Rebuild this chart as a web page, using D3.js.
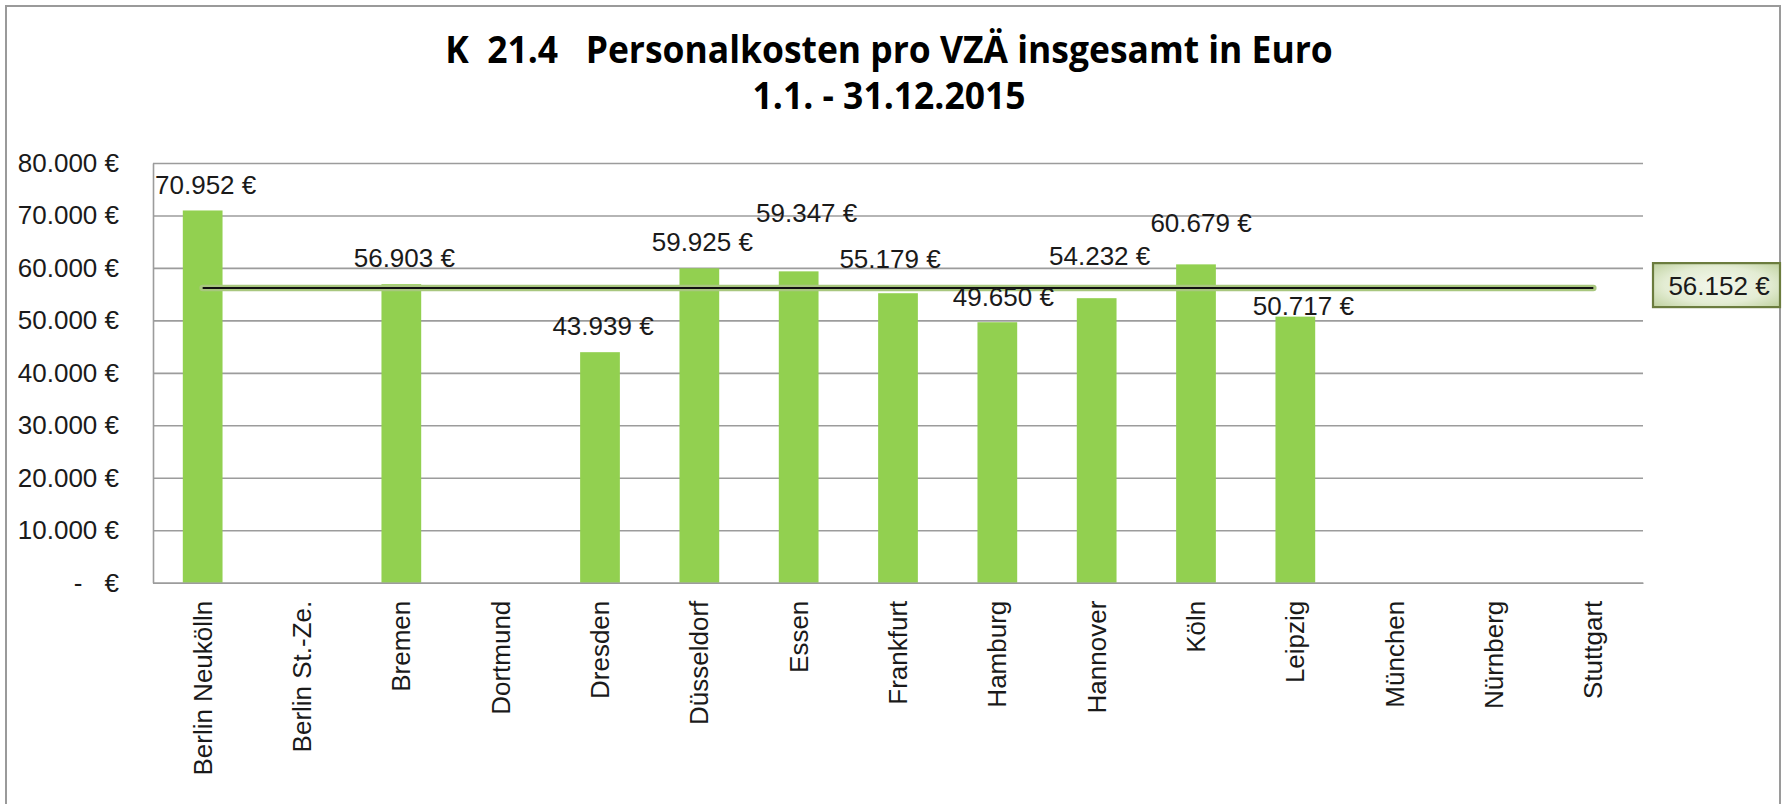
<!DOCTYPE html>
<html>
<head>
<meta charset="utf-8">
<script src="https://cdn.jsdelivr.net/npm/d3@7/dist/d3.min.js"></script>
<style>
  html, body { margin: 0; padding: 0; background: #fff; }
  svg { display: block; }
  text { font-family: "Liberation Sans", Arial, sans-serif; }
</style>
</head>
<body>
<svg id="chart" width="1787" height="804"></svg>
<script>
// ---------- data ----------
const titleLines = ["K  21.4   Personalkosten pro VZÄ insgesamt in Euro", "1.1. - 31.12.2015"];
const categories = ["Berlin Neukölln", "Berlin St.-Ze.", "Bremen", "Dortmund", "Dresden", "Düsseldorf",
  "Essen", "Frankfurt", "Hamburg", "Hannover", "Köln", "Leipzig", "München", "Nürnberg", "Stuttgart"];
const values = [70952, null, 56903, null, 43939, 59925, 59347, 55179, 49650, 54232, 60679, 50717, null, null, null];
const averageValues = [56152, 56152, 56152, 56152, 56152, 56152, 56152, 56152, 56152, 56152, 56152, 56152, 56152, 56152, 56152];
const yTicks = [0, 10000, 20000, 30000, 40000, 50000, 60000, 70000, 80000];
// manual label nudges (dx, dy) as placed in the original
const labelNudgeX = [0, 0, 0, 0, 0, 0, 5, -11, 3, 0, 2, 5, 0, 0, 0];
const labelNudgeY = [0, 0, 0, 0, 0, 0, -32, -8, 1, -16, -15, 15, 0, 0, 0];

// ---------- layout ----------
const svg = d3.select("#chart");
const plot = { left: 153, right: 1643, top: 163, bottom: 582.7 };
const locale = d3.formatLocale({ decimal: ",", thousands: ".", grouping: [3], currency: ["", " €"] });
const fmt = v => locale.format(",.0f")(v) + " €";

const x = d3.scaleBand().domain(categories).range([plot.left, plot.right]).paddingInner(0.6).paddingOuter(0.3);
const y = d3.scaleLinear().domain([0, 80000]).range([plot.bottom, plot.top]);
const cx = c => x(c) + x.bandwidth() / 2;

// outer border
svg.append("rect").attr("x", 6).attr("y", 6).attr("width", 1774).attr("height", 860)
  .attr("fill", "#fff").attr("stroke", "#9a9a9a").attr("stroke-width", 2);

// title (glyphs horizontally condensed as in the original)
const title = svg.append("g");
const titleY = [63.3, 109.3];
const titleEls = titleLines.map((t, i) => title.append("text").attr("x", 0).attr("y", 0)
    .attr("text-anchor", "middle").style("white-space", "pre")
    .style("font-family", "'Open Sans', 'Noto Sans', sans-serif")
    .style("font-weight", 700).style("font-size", "37px").attr("fill", "#000").text(t));
{
  const w = titleEls[0].node().getComputedTextLength();
  const sx = 888 / w;
  titleEls.forEach((el, i) => el.attr("transform", `translate(889,${titleY[i]}) scale(${sx},1)`));
}

// gridlines
svg.append("g").attr("transform", `translate(${plot.left},0)`)
  .call(d3.axisLeft(y).tickValues(yTicks).tickSize(-(plot.right - plot.left)).tickFormat(""))
  .call(g => g.select(".domain").remove())
  .call(g => g.selectAll("line").attr("stroke", "#9c9c9c").attr("stroke-width", 1.6));

// y axis
const yAxis = svg.append("g").attr("transform", `translate(${plot.left},0)`)
  .call(d3.axisLeft(y).tickValues(yTicks).tickSize(0).tickPadding(34).tickFormat(v => v === 0 ? "€" : fmt(v)));
yAxis.select(".domain").attr("stroke", "#9c9c9c").attr("stroke-width", 1.6);
yAxis.selectAll("text").attr("font-size", 26).attr("fill", "#1a1a1a");
yAxis.selectAll(".tick").filter(d => d === 0).append("text")
  .attr("x", -75).attr("dy", "0.32em").attr("text-anchor", "middle")
  .attr("font-size", 26).attr("fill", "#1a1a1a").text("-");

// bars
const barData = categories.map((c, i) => ({ c, v: values[i], i })).filter(d => d.v != null);
svg.append("g").selectAll("rect").data(barData).join("rect")
  .attr("x", d => x(d.c)).attr("width", x.bandwidth())
  .attr("y", d => y(d.v)).attr("height", d => y(0) - y(d.v))
  .attr("fill", "#92d050");

// x axis
const xAxis = svg.append("g").attr("transform", `translate(0,${plot.bottom})`)
  .call(d3.axisBottom(x).tickSize(0).tickPadding(0));
xAxis.select(".domain").attr("stroke", "#9c9c9c").attr("stroke-width", 1.6);
xAxis.selectAll("text")
  .attr("transform", "rotate(-90)")
  .attr("text-anchor", "end").attr("x", -18).attr("y", 0).attr("dy", "0.35em")
  .attr("font-size", 26).attr("fill", "#1a1a1a");

// average line
const line = d3.line().x((d, i) => cx(categories[i])).y(d => y(d));
svg.append("path").datum(averageValues).attr("d", line)
  .attr("fill", "none").attr("stroke", "#a9c77f").attr("stroke-width", 6.5).attr("stroke-linecap", "round");
svg.append("path").datum(averageValues).attr("d", line)
  .attr("fill", "none").attr("stroke", "#111").attr("stroke-width", 2);

// data labels
svg.append("g").selectAll("text").data(barData).join("text")
  .attr("x", d => cx(d.c) + 3 + labelNudgeX[d.i])
  .attr("y", d => y(d.v) - 26 + labelNudgeY[d.i])
  .attr("dy", "0.35em").attr("text-anchor", "middle")
  .attr("font-size", 26).attr("fill", "#1a1a1a").text(d => fmt(d.v));

// average value box
const defs = svg.append("defs");
const grad = defs.append("radialGradient").attr("id", "boxGrad").attr("cx", "50%").attr("cy", "50%").attr("r", "75%");
grad.append("stop").attr("offset", "0%").attr("stop-color", "#f3f7ec");
grad.append("stop").attr("offset", "55%").attr("stop-color", "#e3ecd3");
grad.append("stop").attr("offset", "100%").attr("stop-color", "#b9cd96");
const avgY = y(averageValues[averageValues.length - 1]);
const box = svg.append("g").attr("transform", `translate(1653,${avgY - 25})`);
box.append("rect").attr("width", 127).attr("height", 44)
  .attr("fill", "url(#boxGrad)").attr("stroke", "#6b7c3e").attr("stroke-width", 2.2);
box.append("text").attr("x", 66).attr("y", 23).attr("dy", "0.35em").attr("text-anchor", "middle")
  .attr("font-size", 26).attr("fill", "#1a1a1a").text(fmt(averageValues[averageValues.length - 1]));
</script>
</body>
</html>
